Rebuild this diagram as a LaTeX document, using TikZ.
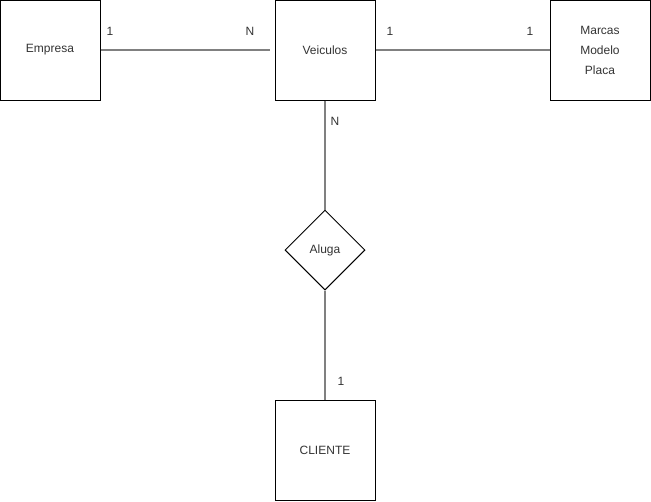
\documentclass[tikz,border=0pt]{standalone}
\usepackage{fontspec}
\setmainfont{Liberation Sans}
\usetikzlibrary{positioning,shapes.geometric}
\tikzset{>=latex}
\tikzstyle{ent}=[rectangle,draw,line width=0.75pt,minimum size=75pt,
  inner sep=0pt,text=black!80,align=center,font=\fontsize{9}{15}\selectfont]
\tikzstyle{rel}=[diamond,draw,line width=0.75pt,minimum width=60pt,
  minimum height=60pt,inner sep=0pt,text=black!80,font=\fontsize{9}{11}\selectfont]
\tikzstyle{link}=[draw=black!50,line width=1.1pt]
\tikzstyle{card}=[text=black!80,font=\fontsize{9}{11}\selectfont,inner sep=0pt]

\begin{document}
\begin{tikzpicture}[x=0.75pt,y=-0.75pt]
  \useasboundingbox (0,0) rectangle (651,501);

  \path (50,50) node (em) [ent] {Empresa};
  \path (325,50) node (ve) [ent] {Veiculos};
  \path (600,50) node (ma) [ent] {Marcas\\Modelo\\Placa};
  \path (325,250) node (al) [rel] {Aluga};
  \path (325,450) node (cl) [ent] {CLIENTE};

  \draw[link] (em.east) -- ([xshift=-3.75pt]ve.west) ;
  \draw[link] (ve.east) -- (ma.west) ;
  \draw[link] (ve.south) -- (al.north) ;
  \draw[link] (al.south) -- (cl.north) ;

  \path (110,31) node (c1) [card] {1};
  \path (250,31) node (c2) [card] {N};
  \path (390,31) node (c3) [card] {1};
  \path (530,31) node (c4) [card] {1};
  \path (335,121) node (c5) [card] {N};
  \path (341,381) node (c6) [card] {1};

\end{tikzpicture}
\end{document}
